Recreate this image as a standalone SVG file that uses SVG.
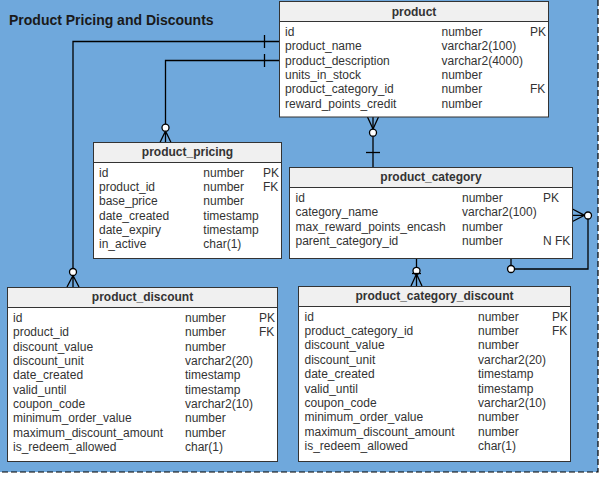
<svg xmlns="http://www.w3.org/2000/svg" width="608" height="480" viewBox="0 0 608 480">
<style>
.bg{fill:#6fa8dc}
.border{stroke:#000;stroke-width:1.2;stroke-dasharray:6 3;fill:none}
.tbl{fill:#fff;stroke:#333;stroke-width:1}
.hdr{fill:#f0f0f0;stroke:#333;stroke-width:1}
text{font-family:"Liberation Sans",Arial,sans-serif;font-size:12px;fill:#333}
.h{font-weight:bold;text-anchor:middle}
.title{font-size:14px;font-weight:bold;fill:#1a1a1a}
.c{fill:none;stroke:#000;stroke-width:1.3}
.o{fill:#fff;stroke:#000;stroke-width:1.3}
</style>
<rect class="bg" x="0" y="0" width="598" height="472"/>
<path class="border" d="M598,0 V472 H0"/>
<text class="title" x="9" y="25">Product Pricing and Discounts</text>

<g id="connectors">
  <!-- product -> product_discount -->
  <path class="c" d="M279,41.5 H73 V276"/>
  <path class="c" d="M264.5,35 V48"/>
  <path class="c" d="M73,275.5 L67,287 M73,275.5 V287 M73,275.5 L79,287"/>
  <circle class="o" cx="73" cy="272" r="3.5"/>
  <!-- product -> product_pricing -->
  <path class="c" d="M279,60.5 H165.5 V131"/>
  <path class="c" d="M264.5,54 V67"/>
  <path class="c" d="M165.5,131 L160,142.5 M165.5,131 V142.5 M165.5,131 L171,142.5"/>
  <circle class="o" cx="165.5" cy="127.7" r="3.5"/>
  <!-- product_category -> product -->
  <path class="c" d="M373,117 V167"/>
  <path class="c" d="M367.5,117 L373,129 L378.5,117"/>
  <circle class="o" cx="373" cy="132.7" r="3.5"/>
  <path class="c" d="M366,152.5 H380"/>
  <!-- product_category -> product_category_discount -->
  <path class="c" d="M416.5,258.5 V286"/>
  <circle class="o" cx="416.5" cy="270.8" r="3.5"/>
  <path class="c" d="M412,273.5 H421"/>
  <path class="c" d="M416.5,274 L411,286 M416.5,274 L422,286"/>
  <!-- self reference product_category -->
  <path class="c" d="M572.5,209 L584.5,215.3 L572.5,221.5 M572.5,215.3 H584.5"/>
  <path class="c" d="M588,219 V269 H514.5"/>
  <circle class="o" cx="588" cy="215.5" r="3.5"/>
  <path class="c" d="M511,265.5 V258.5"/>
  <circle class="o" cx="511" cy="269" r="3.5"/>
</g>

<g id="product">
  <rect class="tbl" x="279.5" y="1.5" width="269" height="115.5"/>
  <rect class="hdr" x="279.5" y="1.5" width="269" height="20"/>
  <text class="h" x="414" y="15.5">product</text>
  <text x="285" y="36">id</text><text x="441.5" y="36">number</text><text x="530" y="36">PK</text>
  <text x="285" y="50.3">product_name</text><text x="441.5" y="50.3">varchar2(100)</text>
  <text x="285" y="64.6">product_description</text><text x="441.5" y="64.6">varchar2(4000)</text>
  <text x="285" y="78.9">units_in_stock</text><text x="441.5" y="78.9">number</text>
  <text x="285" y="93.2">product_category_id</text><text x="441.5" y="93.2">number</text><text x="530" y="93.2">FK</text>
  <text x="285" y="107.5">reward_points_credit</text><text x="441.5" y="107.5">number</text>
</g>

<g id="product_pricing">
  <rect class="tbl" x="93.5" y="142.5" width="188" height="116"/>
  <rect class="hdr" x="93.5" y="142.5" width="188" height="20"/>
  <text class="h" x="187.5" y="156">product_pricing</text>
  <text x="99" y="177">id</text><text x="203.3" y="177">number</text><text x="263" y="177">PK</text>
  <text x="99" y="191.2">product_id</text><text x="203.3" y="191.2">number</text><text x="263" y="191.2">FK</text>
  <text x="99" y="205.4">base_price</text><text x="203.3" y="205.4">number</text>
  <text x="99" y="219.6">date_created</text><text x="203.3" y="219.6">timestamp</text>
  <text x="99" y="233.8">date_expiry</text><text x="203.3" y="233.8">timestamp</text>
  <text x="99" y="248">in_active</text><text x="203.3" y="248">char(1)</text>
</g>

<g id="product_category">
  <rect class="tbl" x="289.5" y="167.5" width="283" height="91"/>
  <rect class="hdr" x="289.5" y="167.5" width="283" height="20"/>
  <text class="h" x="431" y="181">product_category</text>
  <text x="295.5" y="202">id</text><text x="462" y="202">number</text><text x="543" y="202">PK</text>
  <text x="295.5" y="216.3">category_name</text><text x="462" y="216.3">varchar2(100)</text>
  <text x="295.5" y="230.6">max_reward_points_encash</text><text x="462" y="230.6">number</text>
  <text x="295.5" y="244.9">parent_category_id</text><text x="462" y="244.9">number</text><text x="543" y="244.9">N FK</text>
</g>

<g id="product_discount">
  <rect class="tbl" x="7.5" y="287.5" width="270" height="174"/>
  <rect class="hdr" x="7.5" y="287.5" width="270" height="20"/>
  <text class="h" x="142.5" y="301">product_discount</text>
  <text x="13" y="322">id</text><text x="185" y="322">number</text><text x="259" y="322">PK</text>
  <text x="13" y="336.3">product_id</text><text x="185" y="336.3">number</text><text x="259" y="336.3">FK</text>
  <text x="13" y="350.7">discount_value</text><text x="185" y="350.7">number</text>
  <text x="13" y="365">discount_unit</text><text x="185" y="365">varchar2(20)</text>
  <text x="13" y="379.3">date_created</text><text x="185" y="379.3">timestamp</text>
  <text x="13" y="393.7">valid_until</text><text x="185" y="393.7">timestamp</text>
  <text x="13" y="408">coupon_code</text><text x="185" y="408">varchar2(10)</text>
  <text x="13" y="422.3">minimum_order_value</text><text x="185" y="422.3">number</text>
  <text x="13" y="436.7">maximum_discount_amount</text><text x="185" y="436.7">number</text>
  <text x="13" y="451">is_redeem_allowed</text><text x="185" y="451">char(1)</text>
</g>

<g id="product_category_discount">
  <rect class="tbl" x="298.5" y="286.5" width="272" height="175"/>
  <rect class="hdr" x="298.5" y="286.5" width="272" height="20"/>
  <text class="h" x="434.5" y="300">product_category_discount</text>
  <text x="304.5" y="320.5">id</text><text x="478" y="320.5">number</text><text x="552" y="320.5">PK</text>
  <text x="304.5" y="334.9">product_category_id</text><text x="478" y="334.9">number</text><text x="552" y="334.9">FK</text>
  <text x="304.5" y="349.3">discount_value</text><text x="478" y="349.3">number</text>
  <text x="304.5" y="363.7">discount_unit</text><text x="478" y="363.7">varchar2(20)</text>
  <text x="304.5" y="378.1">date_created</text><text x="478" y="378.1">timestamp</text>
  <text x="304.5" y="392.5">valid_until</text><text x="478" y="392.5">timestamp</text>
  <text x="304.5" y="406.9">coupon_code</text><text x="478" y="406.9">varchar2(10)</text>
  <text x="304.5" y="421.3">minimum_order_value</text><text x="478" y="421.3">number</text>
  <text x="304.5" y="435.7">maximum_discount_amount</text><text x="478" y="435.7">number</text>
  <text x="304.5" y="450.1">is_redeem_allowed</text><text x="478" y="450.1">char(1)</text>
</g>
</svg>
